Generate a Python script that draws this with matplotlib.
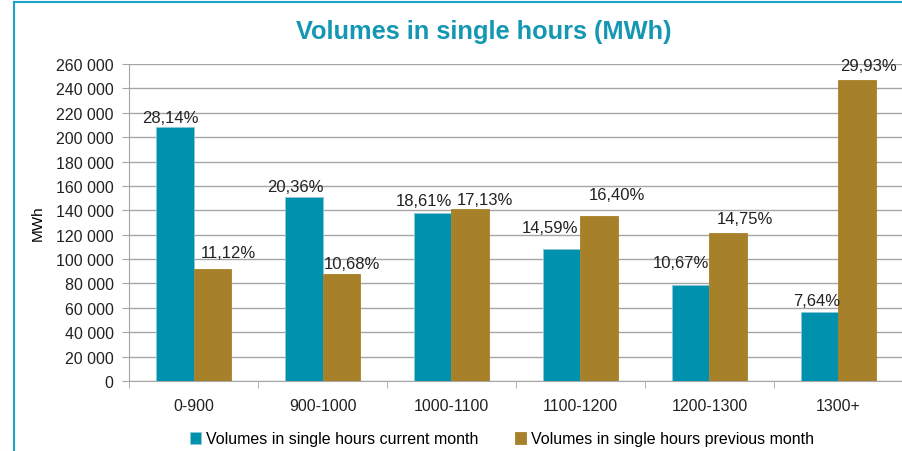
import matplotlib
matplotlib.use('Agg')
import matplotlib.pyplot as plt
from matplotlib.lines import Line2D
from matplotlib.ticker import FuncFormatter
import numpy as np

# ── Data ─────────────────────────────────────────
categories = ["0-900", "900-1000", "1000-1100", "1100-1200", "1200-1300", "1300+"]
current    = [208400, 150800, 137800, 108100, 79000, 56600]
previous   = [91700, 88100, 141300, 135300, 121700, 246900]
current_pct  = ["28,14%", "20,36%", "18,61%", "14,59%", "10,67%", "7,64%"]
previous_pct = ["11,12%", "10,68%", "17,13%", "16,40%", "14,75%", "29,93%"]

# label nudges (pixels from bar-top centre), as placed in the original
current_off  = [(-4, 9), (-8, 11), (-9, 12), (-12, 22), (-10, 22), (-3, 11)]
previous_off = [(16, 17), (11, 10), (15, 9), (18, 22), (17, 14), (11, 14)]

TEAL = "#0091AE"
GOLD = "#A6812A"
GRID = "#A6A6A6"

plt.rcParams['font.family'] = ['Liberation Sans', 'DejaVu Sans']

W, H = 902, 452
fig = plt.figure(figsize=(W / 100, H / 100), dpi=100)
ax = fig.add_axes([129 / W, 1 - 382 / H, 774 / W, 317 / H])

x = np.arange(len(categories))
bw = 0.29
b1 = ax.bar(x - bw / 2, current, bw, color=TEAL, edgecolor="#8CCAD8", linewidth=0.6,
            label="Volumes in single hours current month", zorder=3)
b2 = ax.bar(x + bw / 2, previous, bw, color=GOLD, edgecolor=GOLD, linewidth=0.6,
            label="Volumes in single hours previous month", zorder=3)

for bars, labels, offs in [(b1, current_pct, current_off), (b2, previous_pct, previous_off)]:
    for rect, txt, (dx, dy) in zip(bars, labels, offs):
        ax.annotate(txt, (rect.get_x() + rect.get_width() / 2, rect.get_height()),
                    xytext=(dx, dy), textcoords="offset pixels", ha="center", va="center",
                    fontsize=12, color="#222222")

ax.set_xlim(-0.5, len(categories) - 0.5)
ax.set_ylim(0, 260000)
ax.set_yticks(np.arange(0, 260001, 20000))
ax.yaxis.set_major_formatter(FuncFormatter(lambda v, p: f"{int(v):,}".replace(",", " ")))
ax.set_xticks(x)
ax.set_xticklabels(categories)
ax.set_xticks(np.arange(-0.5, len(categories)), minor=True)
ax.tick_params(axis="x", which="major", length=0, pad=12, labelsize=11.5, colors="#222222")
ax.tick_params(axis="x", which="minor", length=5, color=GRID, direction="out")
ax.tick_params(axis="y", length=5, color=GRID, labelsize=11.5, labelcolor="#222222", pad=6)
ax.grid(axis="y", color=GRID, linewidth=1, zorder=0)
for s in ["top", "right"]:
    ax.spines[s].set_visible(False)
for s in ["left", "bottom"]:
    ax.spines[s].set_color(GRID)
ax.set_ylabel("MWh", fontsize=11, labelpad=8)

fig.text(484 / W, 1 - 32 / H, "Volumes in single hours (MWh)", ha="center", va="center",
         fontsize=18.3, fontweight="bold", color="#1397B3")

ax.legend(loc="center", bbox_to_anchor=((502 - 129) / 774, -(440 - 382) / 317), ncol=2,
          frameon=False, fontsize=11.5, handlelength=0.7, handleheight=0.7,
          handletextpad=0.3, columnspacing=2.3)

# outer frame (cropped at right and bottom)
fig.add_artist(Line2D([14 / W, 14 / W], [0, 1 - 3 / H], color="#19A3C4", linewidth=1.5))
fig.add_artist(Line2D([14 / W, 1], [1 - 3 / H, 1 - 3 / H], color="#19A3C4", linewidth=1.5))

fig.savefig("out.png", dpi=100)
